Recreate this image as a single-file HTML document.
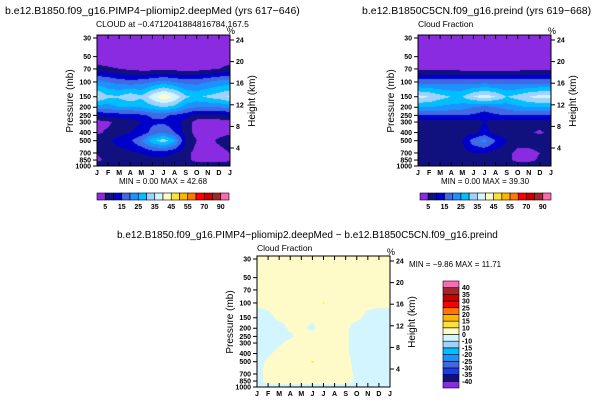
<!DOCTYPE html>
<html><head><meta charset="utf-8">
<style>
body{margin:0;background:#fff;width:615px;height:406px;overflow:hidden;position:relative;font-family:"Liberation Sans",sans-serif;}
</style></head><body>
<svg id="svg" width="615" height="406" style="position:absolute;left:0;top:0"></svg>
<script>
const months=["J","F","M","A","M","J","J","A","S","O","N","D","J"];
const plevs=[1000,850,700,500,400,300,250,200,150,100,70,50,30];
const pTicks=[30,50,70,100,150,200,250,300,400,500,700,850,1000];
const hTicks=[24,20,16,12,8,4];
const absLevels=[5,10,15,20,25,30,35,40,45,50,55,60,70,80,90];
const absLabels=["5","15","25","35","45","55","70","90"];
const diffLevels=[-40,-35,-30,-25,-20,-15,-10,0,10,15,20,25,30,35,40];
const diffLabels=["-40","-35","-30","-25","-20","-15","-10","0","10","15","20","25","30","35","40"];
// rows by pressure level (1000 -> 30), 13 months J..J
const cloudDeep=[
[9,9,9,9,9,9,9,9,9,9,9,9,9],
[4,6,7,8,8,8,8,8,7,3,3,3,4],
[5,8,8,9,10,12,12,10,7,3,3,3,5],
[8,9,12,14,20,28,33,26,10,5,3,6,8],
[4,6,8,10,12,17,20,15,8,3,3,3,4],
[3,4,7,8,10,14,14,12,8,3,3,3,3],
[10,12,12,12,14,16,16,14,12,8,8,8,10],
[22,22,25,25,25,28,30,28,22,20,20,20,22],
[36,31,31,34,31,38,44,39,31,29,31,33,36],
[22,20,18,17,18,20,22,20,18,18,20,22,22],
[7,6,5,4,3,3,3,3,3,3,4,5,7],
[1,1,1,1,1,1,1,1,1,1,1,1,1],
[1,1,1,1,1,1,1,1,1,1,1,1,1]];
const cloudPre=[
[9,9,9,9,9,9,9,9,9,9,9,9,9],
[7,7,7,7,7,8,9,8,7,3,3,6,7],
[8,8,8,8,8,10,10,8,7,3,3,5,8],
[10,8,7,7,10,18,22,15,10,8,8,9,10],
[7,7,7,7,7,8,12,8,7,7,6,4,7],
[8,8,8,8,8,8,10,8,8,8,8,8,8],
[15,15,15,15,15,14,12,14,15,15,15,15,15],
[25,25,24,23,22,20,18,20,22,24,25,25,25],
[37,35,32,30,30,35,38,35,30,32,35,37,37],
[18,18,18,18,18,18,18,18,18,18,18,18,18],
[4,4,4,4,3,3,3,3,3,3,4,4,4],
[1,1,1,1,1,1,1,1,1,1,1,1,1],
[1,1,1,1,1,1,1,1,1,1,1,1,1]];
const cloudDiff=[
[-2,-2,-2,-2,-2,-2,-2,-2,-2,-2,-2,-2,-2],
[-2,2,2,2,2,2,2,2,2,-1,-3,-3,-2],
[-2,2,2,2,2,2,2,2,2,-1,-3,-3,-2],
[-2,1,2,2,4,11,5,3,2,-2,-3,-3,-2],
[-3,-1,2,2,2,2,2,2,1,-2,-3,-3,-3],
[-3,-3,-1,2,2,2,2,2,1,-2,-3,-3,-3],
[-3,-3,-3,-1,2,2,2,2,1,-2,-3,-3,-3],
[-3,-3,-2,1,1,-1,2,2,1,-2,-3,-3,-3],
[-2,-1,1,1,1,1,1,1,1,1,-1,-2,-2],
[1,1,1,1,1,1,10.5,1,1,1,1,1,1],
[2,2,2,2,2,2,2,2,2,2,2,2,2],
[2,2,2,2,2,2,2,2,2,2,2,2,2],
[2,2,2,2,2,2,2,2,2,2,2,2,2]];
const absColors=["#8a2be2","#10107f","#0000cd","#4169e1","#1e90ff","#00bfff","#a0d2ff","#d2f5ff","#fffbc8","#ffe135","#ffb400","#ff7800","#ff0000","#c80000","#a02828","#ff69b4"];
const diffColors=["#8a2be2","#10107f","#1e3ce6","#4169e1","#1e90ff","#00bfff","#a0d2ff","#d2f5ff","#fffbc8","#ffe135","#ffb400","#ff7800","#ff0000","#c80000","#a02828","#ff69b4"];

const NS="http://www.w3.org/2000/svg";
const svg=document.getElementById('svg');
function el(tag,attrs,parent){const e=document.createElementNS(NS,tag);for(const k in attrs)e.setAttribute(k,attrs[k]);(parent||svg).appendChild(e);return e;}
function txt(x,y,s,size,anchor,parent,name){const t=el('text',{x:x,y:y,'font-size':size,'text-anchor':anchor||'start','font-family':'Liberation Sans, sans-serif'},parent);t.textContent=s;


return t;}
function binColor(v,levels,colors){let i=0;while(i<levels.length&&v>=levels[i])i++;return colors[i];}

function panel(x0,y0,data,levels,colors,name){
  const W=133,H=131;
  const g=el('g',{});
  
  
  const sc=36.5;
  const yP=p=>y0+3+sc*Math.log(p/30);
  const xM=i=>x0+i*W/12;
  const cv=document.createElement('canvas');cv.width=W;cv.height=H;
  const ctx=cv.getContext('2d');const img=ctx.createImageData(W,H);
  const lp=plevs.map(p=>Math.log(p));
  for(let py=0;py<H;py++){
    let p=30*Math.exp((py+0.5-3)/sc);p=Math.max(30,Math.min(1000,p));
    const l=Math.log(p);let k=0;while(k<lp.length-2&&l<lp[k+1])k++;
    const f=(lp[k]-l)/(lp[k]-lp[k+1]);
    for(let px=0;px<W;px++){
      const m=(px+0.5)/W*12;const j=Math.min(11,Math.floor(m));const fm=m-j;
      const a=data[k][j]*(1-fm)+data[k][j+1]*fm;const b=data[k+1][j]*(1-fm)+data[k+1][j+1]*fm;
      const v=a*(1-f)+b*f;const c=binColor(v,levels,colors);
      const o=(py*W+px)*4;img.data[o]=parseInt(c.slice(1,3),16);img.data[o+1]=parseInt(c.slice(3,5),16);img.data[o+2]=parseInt(c.slice(5,7),16);img.data[o+3]=255;
    }}
  ctx.putImageData(img,0,0);
  const im=el('image',{x:x0,y:y0,width:W,height:H,href:cv.toDataURL()},g);
  
  
  el('rect',{x:x0,y:y0,width:W,height:H,fill:'none',stroke:'#000','stroke-width':1},g);
  pTicks.forEach(p=>{const y=yP(p);el('line',{x1:x0-4,x2:x0,y1:y,y2:y,stroke:'#000'},g);txt(x0-6,y+2.5,String(p),7,'end',g,'pressure-tick-label').setAttribute('font-weight','bold');});
  hTicks.forEach(h=>{const y=y0+5+(24-h)*5.4;el('line',{x1:x0+W,x2:x0+W+4,y1:y,y2:y,stroke:'#000'},g);txt(x0+W+6,y+2.5,String(h),7,'start',g,'height-tick-label').setAttribute('font-weight','bold');});
  months.forEach((m,i)=>{const x=xM(i);el('line',{x1:x,x2:x,y1:y0+H,y2:y0+H-4,stroke:'#000'},g);el('line',{x1:x,x2:x,y1:y0,y2:y0+4,stroke:'#000'},g);txt(x,y0+H+9,m,7,'middle',g,'month-tick-label').setAttribute('font-weight','bold');});
  const yl=txt(0,0,'Pressure (mb)',10,'middle',g,'y-axis-title');yl.setAttribute('transform',`translate(${x0-24},${y0+66}) rotate(-90)`);
  const hl=txt(0,0,'Height (km)',10,'middle',g,'y2-axis-title');hl.setAttribute('transform',`translate(${x0+W+25},${y0+66}) rotate(-90)`);
  txt(x0+W-3,y0-1,'%',9,'start',g,'units-label');
  return g;
}
function hbar(x0,y0,W,colors,labels,name){
  const g=el('g',{});
  const bw=W/colors.length;
  colors.forEach((c,i)=>{el('rect',{x:x0+i*bw,y:y0,width:bw,height:7,fill:c,stroke:'#000','stroke-width':0.6},g);});
  labels.forEach((s,i)=>{txt(x0+(2*i+1)*bw,y0+16,s,7,'middle',g,'colorbar-label').setAttribute('font-weight','bold');});
}
function vbar(x0,y0,H,colors,labels,name){
  const g=el('g',{});
  const bh=H/colors.length;
  colors.forEach((c,i)=>{el('rect',{x:x0,y:y0+H-(i+1)*bh,width:16,height:bh,fill:c,stroke:'#000','stroke-width':0.6},g);});
  labels.forEach((s,i)=>{txt(x0+19,y0+H-(i+1)*bh+2.5,s,7,'start',g,'colorbar-label').setAttribute('font-weight','bold');});
}
panel(97,35,cloudDeep,absLevels,absColors,'panel-deepmed');
panel(418,35,cloudPre,absLevels,absColors,'panel-preind');
panel(257,256,cloudDiff,diffLevels,diffColors,'panel-difference');
hbar(97,193,132,absColors,absLabels,'colorbar-deepmed');
hbar(420,193,131,absColors,absLabels,'colorbar-preind');
vbar(443,281,107,diffColors,diffLabels,'colorbar-difference');
txt(5,14,'b.e12.B1850.f09_g16.PIMP4−pliomip2.deepMed (yrs 617−646)',10.5,'start',svg,'title-deepmed');
txt(362,14,'b.e12.B1850C5CN.f09_g16.preind (yrs 619−668)',10.5,'start',svg,'title-preind');
txt(96,27,'CLOUD at −0.4712041884816784,167.5',8.5,'start',svg,'subtitle-deepmed');
txt(418,27,'Cloud Fraction',8.5,'start',svg,'subtitle-preind');
txt(117,238,'b.e12.B1850.f09_g16.PIMP4−pliomip2.deepMed − b.e12.B1850C5CN.f09_g16.preind',10,'start',svg,'title-difference');
txt(257,251,'Cloud Fraction',8.5,'start',svg,'subtitle-difference');
txt(163,184,'MIN =    0.00 MAX =   42.68',8,'middle',svg,'minmax-deepmed').setAttribute('xml:space','preserve');
txt(485,184,'MIN =    0.00 MAX =   39.30',8,'middle',svg,'minmax-preind').setAttribute('xml:space','preserve');
txt(409,267,'MIN =  −9.86 MAX =  11.71',8,'start',svg,'minmax-difference').setAttribute('xml:space','preserve');
</script>
</body></html>
